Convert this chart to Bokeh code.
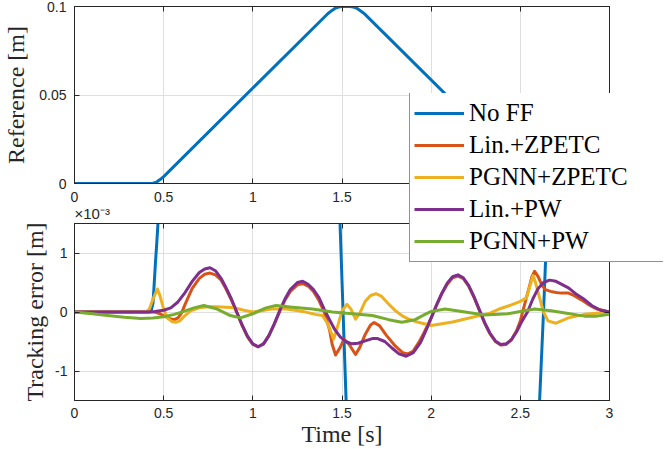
from bokeh.plotting import figure
from bokeh.layouts import column
from bokeh.models import Range1d, FixedTicker, LinearAxis, Legend, LegendItem
from bokeh.embed import file_html
from bokeh.resources import INLINE

# ---------------- data ----------------
x_ticks = [0, 0.5, 1, 1.5, 2, 2.5, 3]
x_tick_labels = ["0", "0.5", "1", "1.5", "2", "2.5", "3"]
ref_ticks = [0, 0.05, 0.1]
ref_tick_labels = ["0", "0.05", "0.1"]
err_ticks = [-1, 0, 1]
err_tick_labels = ["-1", "0", "1"]
err_multiplier = "×10⁻³"

# reference trajectory [m]
t_ref = [0, 0.42, 0.44, 0.46, 0.48, 0.50, 1.42, 1.44, 1.46, 1.48, 1.50, 1.545,
         1.565, 1.585, 1.605, 1.625, 2.545, 2.565, 2.585, 2.605, 2.625, 3.0]
r_ref = [0, 0, 0.0002, 0.0008, 0.0022, 0.0039, 0.0959, 0.0975, 0.0989, 0.0997, 0.1, 0.1,
         0.0997, 0.0989, 0.0975, 0.096, 0.004, 0.0018, 0.0006, 0.0001, 0, 0]

# tracking errors [x 1e-3 m]
t_noff = [0, 0.42, 0.43, 0.44, 0.446, 0.455, 0.462, 0.468, 0.48, 0.50, 1.46, 1.489,
          1.523, 1.55, 2.58, 2.608, 2.630, 2.641, 2.66, 2.70, 3.0]
e_noff = [0, 0, 0.02, 0.15, 0.43, 0.89, 1.2, 1.5, 2.3, 4.0, 4.0, 1.5,
          -1.5, -4.0, -4.0, -1.5, 0.0, 0.83, 2.2, 4.0, 4.0]

t_lin_zp = [0, 0.1, 0.2, 0.3, 0.4, 0.45, 0.48, 0.51, 0.54, 0.56, 0.58, 0.60, 0.62, 0.66,
            0.70, 0.73, 0.76, 0.79, 0.82, 0.85, 0.88, 0.91, 0.94, 0.97, 1.0, 1.03, 1.06,
            1.09, 1.12, 1.15, 1.18, 1.21, 1.25, 1.28, 1.31, 1.34, 1.37, 1.40, 1.43, 1.445,
            1.464, 1.49, 1.511, 1.54, 1.576, 1.60, 1.63, 1.66, 1.68, 1.71, 1.75, 1.80,
            1.84, 1.87, 1.90, 1.93, 1.96, 2.0, 2.03, 2.06, 2.09, 2.12, 2.15, 2.18, 2.21,
            2.24, 2.27, 2.30, 2.33, 2.36, 2.39, 2.42, 2.45, 2.48, 2.50, 2.524, 2.55,
            2.565, 2.58, 2.60, 2.62, 2.64, 2.67, 2.70, 2.73, 2.77, 2.80, 2.84, 2.88,
            2.93, 3.0]
e_lin_zp = [0, 0, 0, 0, 0, 0, -0.03, -0.08, -0.12, -0.13, -0.1, -0.02, 0.13, 0.4,
            0.57, 0.64, 0.66, 0.63, 0.55, 0.39, 0.2, -0.01, -0.23, -0.42, -0.55, -0.59,
            -0.54, -0.40, -0.21, 0.0, 0.2, 0.35, 0.46, 0.48, 0.44, 0.35, 0.2, 0.0, -0.3,
            -0.55, -0.73, -0.6, -0.46, -0.55, -0.72, -0.6, -0.38, -0.22, -0.18, -0.23,
            -0.4, -0.58, -0.69, -0.71, -0.66, -0.52, -0.35, -0.1, 0.11, 0.31, 0.47, 0.58,
            0.61, 0.57, 0.44, 0.25, 0.03, -0.19, -0.37, -0.5, -0.56, -0.55, -0.47, -0.31,
            -0.15, 0.13, 0.42, 0.6, 0.69, 0.6, 0.46, 0.38, 0.35, 0.33, 0.32, 0.32, 0.28,
            0.21, 0.13, 0.05, 0.0]

t_pg_zp = [0, 0.2, 0.40, 0.42, 0.44, 0.465, 0.48, 0.50, 0.52, 0.545, 0.567, 0.59, 0.62,
           0.65, 0.70, 0.75, 0.80, 0.85, 0.90, 0.95, 1.0, 1.05, 1.10, 1.19, 1.28, 1.35,
           1.39, 1.42, 1.453, 1.47, 1.50, 1.527, 1.55, 1.576, 1.60, 1.63, 1.66, 1.69,
           1.72, 1.76, 1.80, 1.84, 1.874, 1.91, 1.95, 2.0, 2.06, 2.12, 2.19, 2.26, 2.33,
           2.39, 2.45, 2.50, 2.534, 2.555, 2.571, 2.585, 2.608, 2.63, 2.655, 2.70, 2.77,
           2.86, 2.93, 3.0]
e_pg_zp = [0, 0, 0, 0.05, 0.22, 0.39, 0.27, 0.05, -0.1, -0.16, -0.175, -0.15, -0.06,
           0.02, 0.07, 0.09, 0.09, 0.08, 0.07, 0.03, 0.0, 0.02, 0.05, 0.05, 0.01, -0.04,
           -0.06, -0.2, -0.46, -0.3, 0.02, 0.13, 0.05, -0.12, -0.02, 0.18, 0.28, 0.31,
           0.27, 0.14, 0.02, -0.07, -0.12, -0.16, -0.19, -0.23, -0.2, -0.17, -0.12, -0.07,
           -0.02, 0.06, 0.12, 0.18, 0.24, 0.45, 0.62, 0.5, 0.24, 0.0, -0.15, -0.19, -0.1,
           -0.04, -0.02, 0.0]

t_lin_pw = [0, 0.1, 0.2, 0.3, 0.4, 0.45, 0.5, 0.54, 0.58, 0.62, 0.66, 0.70, 0.73, 0.76,
            0.79, 0.82, 0.85, 0.88, 0.91, 0.94, 0.97, 1.0, 1.03, 1.06, 1.09, 1.12, 1.15,
            1.18, 1.21, 1.25, 1.28, 1.31, 1.34, 1.37, 1.40, 1.43, 1.46, 1.49, 1.52, 1.555,
            1.59, 1.63, 1.67, 1.70, 1.74, 1.78, 1.82, 1.86, 1.90, 1.94, 1.97, 2.0, 2.03,
            2.06, 2.09, 2.12, 2.15, 2.18, 2.21, 2.24, 2.27, 2.30, 2.33, 2.36, 2.39, 2.42,
            2.45, 2.48, 2.51, 2.54, 2.57, 2.60, 2.63, 2.664, 2.70, 2.77, 2.81, 2.86, 2.90,
            2.95, 3.0]
e_lin_pw = [0, 0, 0, 0, 0, 0.01, 0.03, 0.07, 0.17, 0.33, 0.52, 0.67, 0.73, 0.75, 0.70,
            0.58, 0.41, 0.22, 0.0, -0.22, -0.41, -0.54, -0.59, -0.54, -0.40, -0.20, 0.02,
            0.22, 0.38, 0.50, 0.52, 0.47, 0.38, 0.25, 0.05, -0.13, -0.30, -0.42, -0.50,
            -0.54, -0.53, -0.49, -0.45, -0.45, -0.50, -0.61, -0.71, -0.75, -0.69, -0.52,
            -0.32, -0.1, 0.12, 0.32, 0.49, 0.6, 0.63, 0.58, 0.45, 0.26, 0.04, -0.18, -0.36,
            -0.49, -0.55, -0.54, -0.47, -0.33, -0.15, 0.0, 0.22, 0.4, 0.5, 0.54, 0.52,
            0.41, 0.31, 0.21, 0.11, 0.03, 0.0]

t_pg_pw = [0, 0.1, 0.186, 0.28, 0.372, 0.44, 0.5, 0.56, 0.613, 0.67, 0.725, 0.8, 0.874,
           0.93, 1.0, 1.074, 1.13, 1.223, 1.335, 1.446, 1.558, 1.67, 1.762, 1.836, 1.91,
           1.96, 2.0, 2.078, 2.19, 2.3, 2.43, 2.50, 2.58, 2.673, 2.76, 2.86, 2.93, 3.0]
e_pg_pw = [0, -0.03, -0.06, -0.09, -0.11, -0.1, -0.08, -0.04, 0.01, 0.07, 0.11, 0.05,
           -0.06, -0.1, -0.03, 0.07, 0.11, 0.08, 0.05, 0.0, -0.03, -0.06, -0.13, -0.175,
           -0.13, -0.05, 0.01, 0.05, 0.0, -0.05, -0.03, 0.01, 0.05, 0.02, -0.02, -0.07,
           -0.07, -0.04]

series_names = ["No FF", "Lin.+ZPETC", "PGNN+ZPETC", "Lin.+PW", "PGNN+PW"]
series_colors = ["#0072BD", "#D95319", "#EDB120", "#7E2F8E", "#77AC30"]

AX = "#262626"
TICK_FONT = "Liberation Sans"
SERIF = "Liberation Serif"
LEGEND_FONT = "serif"


def style_axis(ax, ticks, labels, visible_labels=True):
    ax.ticker = FixedTicker(ticks=ticks)
    ax.axis_line_color = AX
    ax.axis_line_width = 1
    ax.major_tick_line_color = AX
    ax.major_tick_in = 5
    ax.major_tick_out = 0
    ax.minor_tick_line_color = None
    if visible_labels:
        ax.major_label_overrides = dict(zip(ticks, labels))
        ax.major_label_text_font = TICK_FONT
        ax.major_label_text_font_size = "14px"
        ax.major_label_text_color = AX
    else:
        ax.major_label_overrides = {t: "" for t in ticks}
        ax.major_label_text_font_size = "0px"
        ax.major_label_standoff = 0


def style_label(ax, text, standoff):
    ax.axis_label = text
    ax.axis_label_text_font = SERIF
    ax.axis_label_text_font_size = "24px"
    ax.axis_label_text_font_style = "normal"
    ax.axis_label_text_color = AX
    ax.axis_label_standoff = standoff


def base_fig(height, yr, border_top, border_bottom, transparent=False):
    p = figure(width=664, height=height, x_range=Range1d(0, 3), y_range=yr,
               output_backend="svg", toolbar_location=None,
               min_border_left=71, min_border_right=55,
               min_border_top=border_top, min_border_bottom=border_bottom)
    p.outline_line_color = AX
    p.outline_line_width = 1
    p.background_fill_color = "white"
    if transparent:
        p.border_fill_alpha = 0
    return p


def style_grid(p, xt, yt):
    for g, tk in ((p.xgrid[0], xt), (p.ygrid[0], yt)):
        g.ticker = FixedTicker(ticks=tk)
        g.grid_line_color = "#dfdfdf"
        g.grid_line_width = 1


# ---------------- top: reference ----------------
p1 = base_fig(207, Range1d(0, 0.1), 6, 24)
bx1, ly1 = p1.below[0], p1.left[0]
style_axis(bx1, x_ticks, x_tick_labels)
bx1.major_label_standoff = 8
style_axis(ly1, ref_ticks, ref_tick_labels)
ly1.major_label_standoff = 8
style_label(ly1, "Reference [m]", 7)
ax_top1 = LinearAxis()
style_axis(ax_top1, x_ticks, x_tick_labels, visible_labels=False)
p1.add_layout(ax_top1, "above")
ax_r1 = LinearAxis()
style_axis(ax_r1, ref_ticks, ref_tick_labels, visible_labels=False)
p1.add_layout(ax_r1, "right")
style_grid(p1, x_ticks, ref_ticks)
p1.line(t_ref, r_ref, line_color=series_colors[0], line_width=3, line_join="round")

# ---------------- bottom: tracking error ----------------
p2 = base_fig(359, Range1d(-1.5, 1.5), 133, 49, transparent=True)
p2.margin = (-117, 0, 0, 0)
bx2, ly2 = p2.below[0], p2.left[0]
style_axis(bx2, x_ticks, x_tick_labels)
bx2.major_label_standoff = 7
style_label(bx2, "Time [s]", 0)
style_axis(ly2, err_ticks, err_tick_labels)
ly2.major_label_standoff = 7
style_label(ly2, "Tracking error [m]", 4)
ax_top2 = LinearAxis()
style_axis(ax_top2, x_ticks, x_tick_labels, visible_labels=False)
p2.add_layout(ax_top2, "above")
ax_r2 = LinearAxis()
style_axis(ax_r2, err_ticks, err_tick_labels, visible_labels=False)
p2.add_layout(ax_r2, "right")
style_grid(p2, x_ticks, err_ticks)

p2.title.text = err_multiplier
p2.title.align = "left"
p2.title.offset = 0
p2.title.standoff = 3
p2.title.text_font = TICK_FONT
p2.title.text_font_size = "15px"
p2.title.text_font_style = "normal"
p2.title.text_color = AX

series_t = [t_noff, t_lin_zp, t_pg_zp, t_lin_pw, t_pg_pw]
series_e = [e_noff, e_lin_zp, e_pg_zp, e_lin_pw, e_pg_pw]
for col, tt, ee in zip(series_colors, series_t, series_e):
    p2.line(tt, ee, line_color=col, line_width=3, line_join="round")

# ---------------- legend (overlay figure spanning both panels) ----------------
# The legend's own renderers carry the same series; their y-range lies far
# away from the data, so only the legend box is visible in this overlay.
p3 = figure(width=255, height=170, x_axis_type=None, y_axis_type=None,
            x_range=Range1d(0, 3), y_range=Range1d(100, 101),
            output_backend="svg", toolbar_location=None,
            min_border_left=0, min_border_right=0, min_border_top=0, min_border_bottom=0)
try:
    p3.frame_align = False
except Exception:
    pass
p3.margin = (-356, 0, 0, 408)
p3.outline_line_color = None
p3.background_fill_alpha = 0
p3.border_fill_alpha = 0
items = []
for name, col, tt, ee in zip(series_names, series_colors, series_t, series_e):
    r = p3.line(tt, ee, line_color=col, line_width=3)
    items.append(LegendItem(label=name, renderers=[r]))
legend = Legend(items=items, location=(1, 1), margin=0, padding=4, spacing=0,
                glyph_width=50, glyph_height=32, label_height=32, label_width=190,
                label_standoff=5, label_text_font=LEGEND_FONT, label_text_font_size="25px",
                label_text_font_style="normal",
                label_text_color="#000000", border_line_color=AX, border_line_width=1,
                background_fill_color="white", background_fill_alpha=1.0)
p3.add_layout(legend, "center")

layout = column(p1, p2, p3)

open("out.html", "w").write(file_html(layout, INLINE))
